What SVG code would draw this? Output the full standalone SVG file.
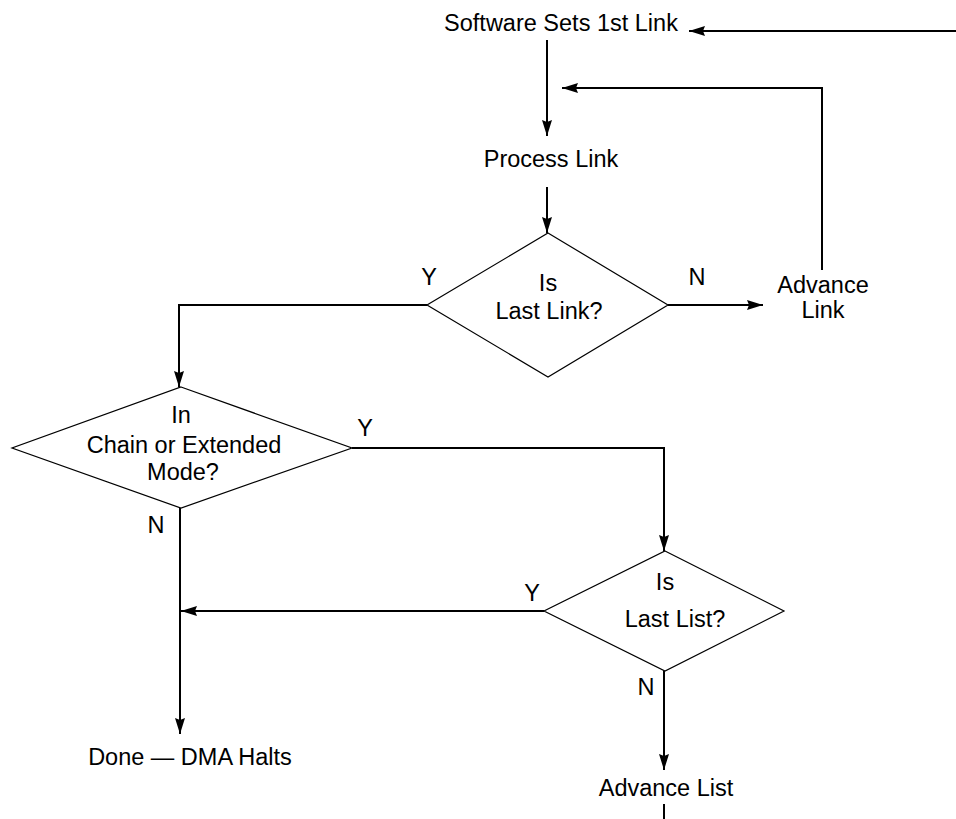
<svg xmlns="http://www.w3.org/2000/svg" width="956" height="819" viewBox="0 0 956 819">
<style>
text{font-family:"Liberation Sans",Arial,sans-serif;font-size:23.5px;fill:#000;text-anchor:middle}
.c{fill:none;stroke:#000;stroke-width:2}
.d{fill:#fff;stroke:#000;stroke-width:1.2}
</style>
<defs>
<marker id="a" viewBox="0 0 16 10" refX="16" refY="5" markerWidth="16" markerHeight="10" markerUnits="userSpaceOnUse" orient="auto">
<path d="M0,0 L16,5 L0,10 L2,5 Z" fill="#000"/>
</marker>
</defs>
<rect width="956" height="819" fill="#fff"/>
<g id="connectors">
<path class="c" d="M956,31 H689" marker-end="url(#a)"/>
<path class="c" d="M547,40 V136" marker-end="url(#a)"/>
<path class="c" d="M822,270 V88 H562" marker-end="url(#a)"/>
<path class="c" d="M547,187 V233" marker-end="url(#a)"/>
<path class="c" d="M668,305 H763" marker-end="url(#a)"/>
<path class="c" d="M427,305 H179 V387" marker-end="url(#a)"/>
<path class="c" d="M352,448 H664 V551" marker-end="url(#a)"/>
<path class="c" d="M544,611 H181" marker-end="url(#a)"/>
<path class="c" d="M180,508 V734" marker-end="url(#a)"/>
<path class="c" d="M664,671 V770" marker-end="url(#a)"/>
<path class="c" d="M664,804 V819"/>
</g>
<g id="start"><text x="561" y="31">Software Sets 1st Link</text></g>
<g id="process"><text x="551" y="167">Process Link</text></g>
<g id="lastlink">
<polygon class="d" points="548,233 668,305 548,377 427,305"/>
<text x="548" y="291">Is</text>
<text x="549" y="319">Last Link?</text>
</g>
<g id="advlink"><text x="823" y="293">Advance</text><text x="823" y="318">Link</text></g>
<g id="mode">
<polygon class="d" points="181,387 352,448 181,508 12,448"/>
<text x="181" y="423">In</text>
<text x="184" y="453">Chain or Extended</text>
<text x="183" y="480">Mode?</text>
</g>
<g id="lastlist">
<polygon class="d" points="665,551 784,611 665,671 544,611"/>
<text x="665" y="590">Is</text>
<text x="675" y="627">Last List?</text>
</g>
<g id="done"><text x="190" y="765">Done — DMA Halts</text></g>
<g id="advlist"><text x="666" y="796">Advance List</text></g>
<g id="labels">
<text x="429" y="285">Y</text>
<text x="697" y="285">N</text>
<text x="365" y="436">Y</text>
<text x="156" y="533">N</text>
<text x="532" y="601">Y</text>
<text x="646" y="695">N</text>
</g>
</svg>
